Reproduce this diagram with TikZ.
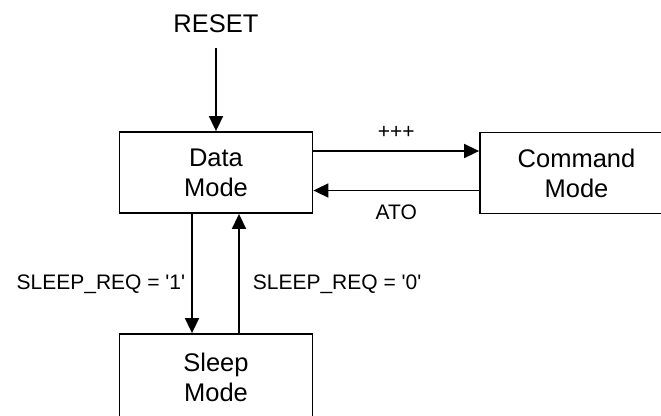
\documentclass[tikz,border=0pt]{standalone}
\usepackage{fontspec}
\setmainfont{Liberation Sans}
\usepackage{tikz}
\usetikzlibrary{arrows.meta,positioning}
\definecolor{ink}{RGB}{0,0,0}
\tikzset{
  mode/.style={draw=ink,line width=1.8pt,minimum width=193pt,minimum height=81pt,
    inner sep=0pt,align=center,font=\fontsize{25.5}{30}\selectfont},
  ar/.style={draw=ink,line width=1.7pt,-{Triangle[length=15pt,width=14pt]}},
  lbl/.style={inner sep=0pt,font=\fontsize{21}{25}\selectfont},
}
\newcommand{\sq}{\textquotesingle}

\begin{document}
\begin{tikzpicture}[x=1pt,y=-1pt]
  \useasboundingbox (0,0) rectangle (661,415);
  \node[font=\fontsize{25.5}{30}\selectfont,inner sep=0pt] (reset) at (216,24) {RESET};
  \node[mode] (data)  at (216,172.5) {Data\\Mode};
  \node[mode] (cmd)   at (576.5,173) {Command\\Mode};
  \node[mode,minimum height=86pt] (sleep) at (216,377) {Sleep\\Mode};
  \draw[ar,shorten <=15pt] (reset) -- (data);
  % data <-> command
  \draw[ar] ([yshift=21.5pt]data.east) -- ([yshift=21.5pt]data.east -| cmd.west)
     node[lbl,midway,yshift=19pt] {+++};
  \draw[ar] ([yshift=-18pt]data.east -| cmd.west) -- ([yshift=-18pt]data.east)
     node[lbl,midway,yshift=-22pt] {ATO};
  % data <-> sleep
  \draw[ar] ([xshift=-24pt]data.south) -- ([xshift=-24pt]sleep.north)
     node[lbl,midway,left=6pt,yshift=-11pt] {SLEEP\_REQ = \sq1\sq};
  \draw[ar] ([xshift=23pt]sleep.north) -- ([xshift=23pt]data.south)
     node[lbl,midway,right=13pt,yshift=-11pt] {SLEEP\_REQ = \sq0\sq};
\end{tikzpicture}
\end{document}
